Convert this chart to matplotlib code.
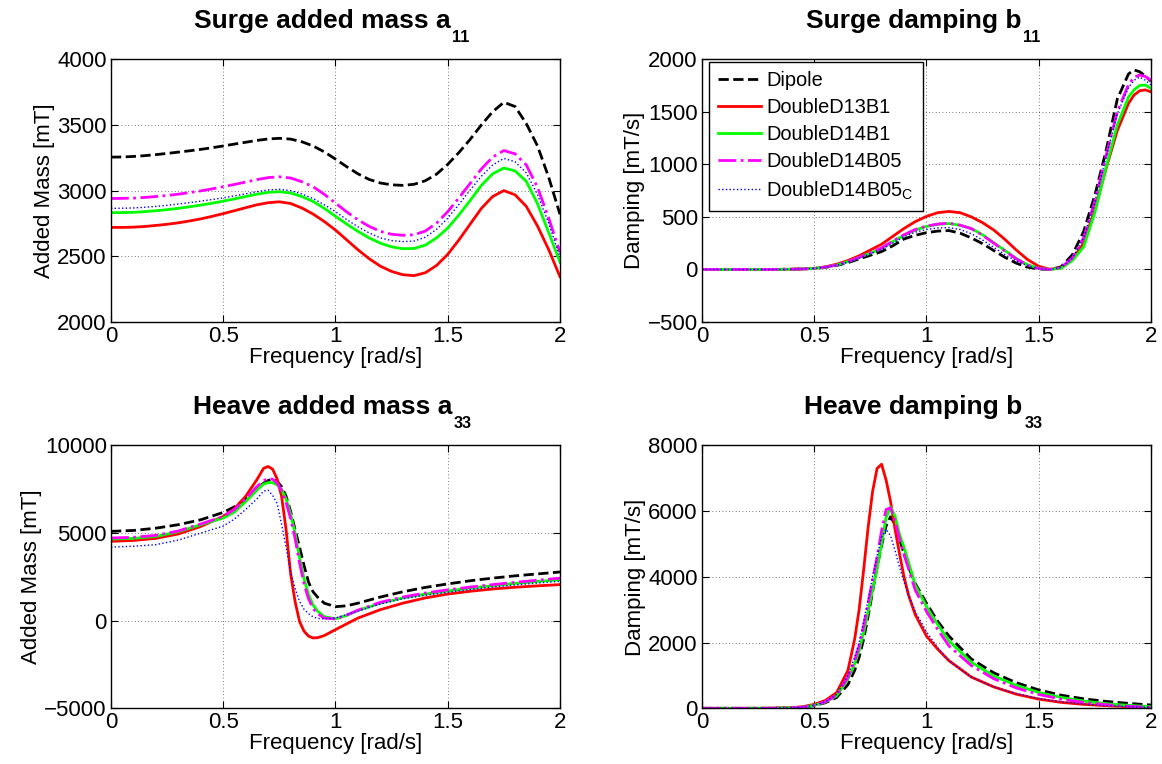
import matplotlib

matplotlib.use("Agg")
import matplotlib.pyplot as plt

plt.rcParams["font.family"] = ["Liberation Sans", "DejaVu Sans"]
plt.rcParams["mathtext.fontset"] = "custom"
plt.rcParams["mathtext.rm"] = "Liberation Sans"
plt.rcParams["mathtext.it"] = "Liberation Sans"
plt.rcParams["mathtext.bf"] = "Liberation Sans:bold"

LABELS = ["Dipole", "DoubleD13B1", "DoubleD14B1", "DoubleD14B05", "DoubleD14B05$_C$"]

# --- Surge added mass a11 (read every 0.05 rad/s) ---
FREQ_A11 = [0, 0.05, 0.1, 0.15, 0.2, 0.25, 0.3, 0.35, 0.4, 0.45, 0.5, 0.55, 0.6, 0.65, 0.7,
            0.75, 0.8, 0.85, 0.9, 0.95, 1.0, 1.05, 1.1, 1.15, 1.2, 1.25, 1.3, 1.35, 1.4,
            1.45, 1.5, 1.55, 1.6, 1.65, 1.7, 1.75, 1.8, 1.85, 1.9, 1.95, 2.0]
A11_DIPOLE = [3255, 3256, 3260, 3266, 3274, 3283, 3293, 3303, 3314, 3326, 3340, 3354, 3368,
              3382, 3393, 3398, 3392, 3372, 3340, 3295, 3240, 3182, 3128, 3085, 3058, 3044,
              3040, 3048, 3075, 3125, 3200, 3290, 3390, 3500, 3600, 3672, 3640, 3510, 3340,
              3100, 2820]
A11_D13B1 = [2720, 2720, 2722, 2727, 2735, 2744, 2755, 2769, 2785, 2804, 2825, 2847, 2870,
             2892, 2908, 2915, 2902, 2868, 2822, 2765, 2700, 2625, 2550, 2482, 2425, 2385,
             2360, 2353, 2375, 2430, 2515, 2625, 2745, 2865, 2955, 3000, 2968, 2880, 2730,
             2550, 2345]
A11_D14B1 = [2832, 2833, 2835, 2840, 2847, 2855, 2865, 2877, 2890, 2904, 2920, 2937, 2955,
             2973, 2987, 2992, 2982, 2955, 2918, 2865, 2805, 2745, 2690, 2640, 2600, 2572,
             2558, 2560, 2585, 2640, 2715, 2815, 2925, 3040, 3128, 3172, 3150, 3070, 2900,
             2680, 2455]
A11_D14B05 = [2940, 2941, 2943, 2948, 2955, 2963, 2973, 2985, 2998, 3013, 3030, 3047, 3065,
              3084, 3099, 3105, 3096, 3068, 3030, 2972, 2905, 2838, 2778, 2728, 2690, 2668,
              2660, 2664, 2692, 2752, 2840, 2945, 3055, 3165, 3255, 3305, 3280, 3195, 3025,
              2790, 2530]
A11_D14B05C = [2865, 2866, 2868, 2873, 2880, 2888, 2898, 2908, 2920, 2932, 2945, 2960, 2975,
               2992, 3005, 3010, 3000, 2975, 2940, 2893, 2840, 2780, 2725, 2678, 2640, 2620,
               2612, 2616, 2645, 2705, 2790, 2895, 3005, 3110, 3195, 3245, 3220, 3135, 2970,
               2750, 2495]

# --- Surge damping b11 ---
FREQ_B11 = [0, 0.1, 0.2, 0.3, 0.4, 0.45, 0.5, 0.55, 0.6, 0.65, 0.7, 0.75, 0.8, 0.85, 0.9,
            0.95, 1.0, 1.05, 1.1, 1.15, 1.2, 1.25, 1.3, 1.35, 1.4, 1.45, 1.5, 1.55, 1.6,
            1.65, 1.7, 1.75, 1.8, 1.85, 1.9, 1.925, 1.95, 1.975, 2.0]
B11_DIPOLE = [0, 0, 0, 0, 2, 5, 10, 20, 38, 65, 100, 135, 170, 225, 290, 325, 350, 365, 370,
              345, 300, 245, 180, 115, 60, 22, 5, 0, 25, 140, 360, 706, 1130, 1620, 1860,
              1898, 1880, 1840, 1790]
B11_D13B1 = [0, 0, 0, 0, 2, 5, 10, 25, 50, 85, 130, 185, 240, 315, 390, 455, 505, 540, 552,
             540, 500, 445, 375, 285, 185, 95, 30, 2, 15, 95, 250, 570, 960, 1320, 1580,
             1660, 1700, 1708, 1690]
B11_D14B1 = [0, 0, 0, 0, 2, 5, 10, 23, 42, 75, 115, 155, 200, 265, 325, 375, 410, 430, 437,
             420, 390, 330, 255, 180, 105, 45, 12, 0, 12, 85, 215, 540, 970, 1375, 1640,
             1710, 1750, 1755, 1722]
B11_D14B05 = [0, 0, 0, 0, 2, 5, 10, 23, 42, 75, 115, 158, 205, 270, 330, 380, 412, 432, 440,
              422, 388, 325, 250, 175, 100, 42, 10, 0, 18, 110, 300, 650, 1080, 1500, 1760,
              1830, 1850, 1835, 1800]
B11_D14B05C = [0, 0, 0, 0, 2, 5, 10, 22, 40, 70, 108, 150, 190, 250, 310, 355, 380, 395, 398,
               380, 340, 280, 210, 140, 80, 35, 8, 0, 18, 110, 300, 640, 1070, 1480, 1730,
               1800, 1830, 1800, 1755]

# --- Heave added mass a33 ---
FREQ_A33 = [0, 0.1, 0.2, 0.3, 0.4, 0.5, 0.55, 0.6, 0.65, 0.68, 0.7, 0.72, 0.74, 0.76, 0.78,
            0.8, 0.82, 0.84, 0.86, 0.88, 0.9, 0.92, 0.95, 1.0, 1.05, 1.1, 1.2, 1.3, 1.4,
            1.5, 1.6, 1.7, 1.8, 1.9, 2.0]
A33_DIPOLE = [5100, 5150, 5280, 5480, 5760, 6180, 6500, 6950, 7550, 7850, 8000, 8080, 7950,
              7650, 7100, 6250, 5200, 4200, 3150, 2200, 1650, 1350, 1000, 800, 850, 1000,
              1350, 1650, 1900, 2100, 2280, 2430, 2560, 2670, 2780]
A33_D13B1 = [4530, 4580, 4700, 4950, 5380, 5950, 6400, 7100, 8050, 8700, 8800, 8650, 8100,
             7100, 5200, 2700, 1100, -50, -600, -880, -985, -970, -850, -510, -180, 150,
             630, 1000, 1300, 1520, 1680, 1810, 1910, 1990, 2060]
A33_D14B1 = [4660, 4700, 4810, 5080, 5480, 5860, 6200, 6800, 7450, 7800, 7880, 7880, 7750,
             7500, 6950, 6100, 5000, 3600, 2400, 1500, 900, 550, 230, 110, 300, 580,
             1000, 1300, 1520, 1700, 1860, 2000, 2130, 2240, 2340]
A33_D14B05 = [4720, 4760, 4870, 5120, 5520, 5950, 6350, 6950, 7650, 8000, 8100, 8080, 7850,
              7450, 6750, 5850, 4700, 3300, 2100, 1250, 700, 400, 150, 100, 320, 600,
              1050, 1350, 1580, 1760, 1920, 2060, 2190, 2310, 2430]
A33_D14B05C = [4200, 4250, 4340, 4600, 5000, 5400, 5800, 6350, 6950, 7400, 7450, 7150, 6700,
               5500, 4200, 2800, 1850, 1100, 650, 400, 220, 130, 110, 150, 350, 550,
               950, 1250, 1450, 1620, 1780, 1920, 2040, 2150, 2250]

# --- Heave damping b33 ---
FREQ_B33 = [0, 0.1, 0.2, 0.3, 0.4, 0.45, 0.5, 0.55, 0.6, 0.65, 0.68, 0.7, 0.72, 0.74, 0.76,
            0.78, 0.8, 0.82, 0.84, 0.86, 0.88, 0.9, 0.92, 0.95, 1.0, 1.05, 1.1, 1.2, 1.3,
            1.4, 1.5, 1.6, 1.7, 1.8, 1.9, 2.0]
B33_DIPOLE = [0, 0, 0, 2, 10, 30, 80, 170, 330, 720, 1150, 1550, 2100, 2800, 3550,
              4300, 4950, 5550, 5830, 5600, 5150, 4700, 4300, 3800, 3200, 2650, 2200, 1500, 1080,
              780, 560, 400, 290, 210, 150, 100]
B33_D13B1 = [0, 0, 0, 2, 20, 50, 120, 240, 480, 1150, 2100, 3000, 4200, 5500, 6600,
             7300, 7430, 6950, 6300, 5450, 4700, 4000, 3450, 2850, 2200, 1800, 1450, 950, 650,
             430, 280, 180, 120, 80, 50, 30]
B33_D14B1 = [0, 0, 0, 2, 15, 35, 90, 190, 380, 880, 1350, 1750, 2300, 2950, 3600,
             4250, 5000, 5800, 6130, 5850, 5300, 4900, 4450, 3750, 3100, 2550, 2050, 1400, 980,
             700, 480, 330, 220, 140, 90, 50]
B33_D14B05 = [0, 0, 0, 2, 15, 35, 90, 200, 400, 950, 1450, 1900, 2500, 3200, 3900,
              4600, 5400, 6050, 6100, 5700, 5150, 4700, 4250, 3600, 2950, 2400, 1900, 1300, 900,
              620, 420, 280, 180, 110, 60, 30]
B33_D14B05C = [0, 0, 0, 2, 15, 35, 95, 200, 420, 1000, 1550, 2000, 2650, 3300, 4000,
               4650, 5200, 5450, 5250, 4800, 4300, 3850, 3450, 2950, 2330, 1850, 1450, 950, 650,
               450, 300, 200, 130, 80, 50, 30]

STYLES = [
    dict(color="black", linestyle="--", linewidth=2.0),
    dict(color="red", linestyle="-", linewidth=2.0),
    dict(color=(0, 1, 0), linestyle="-", linewidth=2.0),
    dict(color="magenta", linestyle="-.", linewidth=2.0),
    dict(color="blue", linestyle=":", linewidth=1.0),
]

FONT = 16
TITLE_FONT = 19
SUB_FONT = 11.7


def add_title(ax, main, sub):
    # MATLAB-style title: subscript sits well below the baseline
    text = ax.text(0.471, 1.118, main, transform=ax.transAxes, ha="center", va="baseline",
                   fontsize=TITLE_FONT, fontweight="bold")
    ax.annotate(sub, xy=(1, 1.118), xycoords=(text, "axes fraction"), xytext=(1.2, -9.6),
                textcoords="offset points", ha="left", va="baseline",
                fontsize=SUB_FONT, fontweight="bold", annotation_clip=False)


def style_axes(ax, ylabel, yticks):
    ax.set_xlabel("Frequency [rad/s]", fontsize=FONT, labelpad=0)
    ax.set_ylabel(ylabel, fontsize=FONT, labelpad=2)
    ax.set_xlim(0, 2)
    ax.set_xticks([0, 0.5, 1, 1.5, 2])
    ax.set_xticklabels(["0", "0.5", "1", "1.5", "2"])
    ax.set_ylim(yticks[0], yticks[-1])
    ax.set_yticks(yticks)
    ax.grid(True, linestyle=(0, (1, 3)), color="black", linewidth=0.6, alpha=0.7)
    ax.tick_params(direction="in", top=True, right=True, labelsize=FONT, length=5,
                   width=0.8, pad=3)
    for spine in ax.spines.values():
        spine.set_linewidth(1.0)


def draw_panel(ax, freq, series):
    for values, label, style in zip(series, LABELS, STYLES):
        ax.plot(freq, values, label=label, **style)


def main():
    fig = plt.figure(figsize=(11.62, 7.64), dpi=100)
    w, h = 0.3864, 0.3440
    ax1 = fig.add_axes([0.0955, 0.5785, w, h])
    ax2 = fig.add_axes([0.6041, 0.5785, w, h])
    ax3 = fig.add_axes([0.0955, 0.0729, w, h])
    ax4 = fig.add_axes([0.6041, 0.0729, w, h])

    draw_panel(ax1, FREQ_A11, [A11_DIPOLE, A11_D13B1, A11_D14B1, A11_D14B05, A11_D14B05C])
    style_axes(ax1, "Added Mass [mT]", [2000, 2500, 3000, 3500, 4000])
    add_title(ax1, "Surge added mass a", "11")

    draw_panel(ax2, FREQ_B11, [B11_DIPOLE, B11_D13B1, B11_D14B1, B11_D14B05, B11_D14B05C])
    style_axes(ax2, "Damping [mT/s]", [-500, 0, 500, 1000, 1500, 2000])
    add_title(ax2, "Surge damping b", "11")
    leg = ax2.legend(loc="upper left", bbox_to_anchor=(0.0156, 0.9886), borderaxespad=0,
                     fontsize=14.4, handlelength=2.17, labelspacing=0.4, fancybox=False,
                     framealpha=1, borderpad=0.45, handletextpad=0.25)
    leg.get_frame().set_edgecolor("black")
    leg.get_frame().set_linewidth(1.0)

    draw_panel(ax3, FREQ_A33, [A33_DIPOLE, A33_D13B1, A33_D14B1, A33_D14B05, A33_D14B05C])
    style_axes(ax3, "Added Mass [mT]", [-5000, 0, 5000, 10000])
    add_title(ax3, "Heave added mass a", "33")

    draw_panel(ax4, FREQ_B33, [B33_DIPOLE, B33_D13B1, B33_D14B1, B33_D14B05, B33_D14B05C])
    style_axes(ax4, "Damping [mT/s]", [0, 2000, 4000, 6000, 8000])
    add_title(ax4, "Heave damping b", "33")

    fig.savefig("out.png", dpi=100)


if __name__ == "__main__":
    main()
